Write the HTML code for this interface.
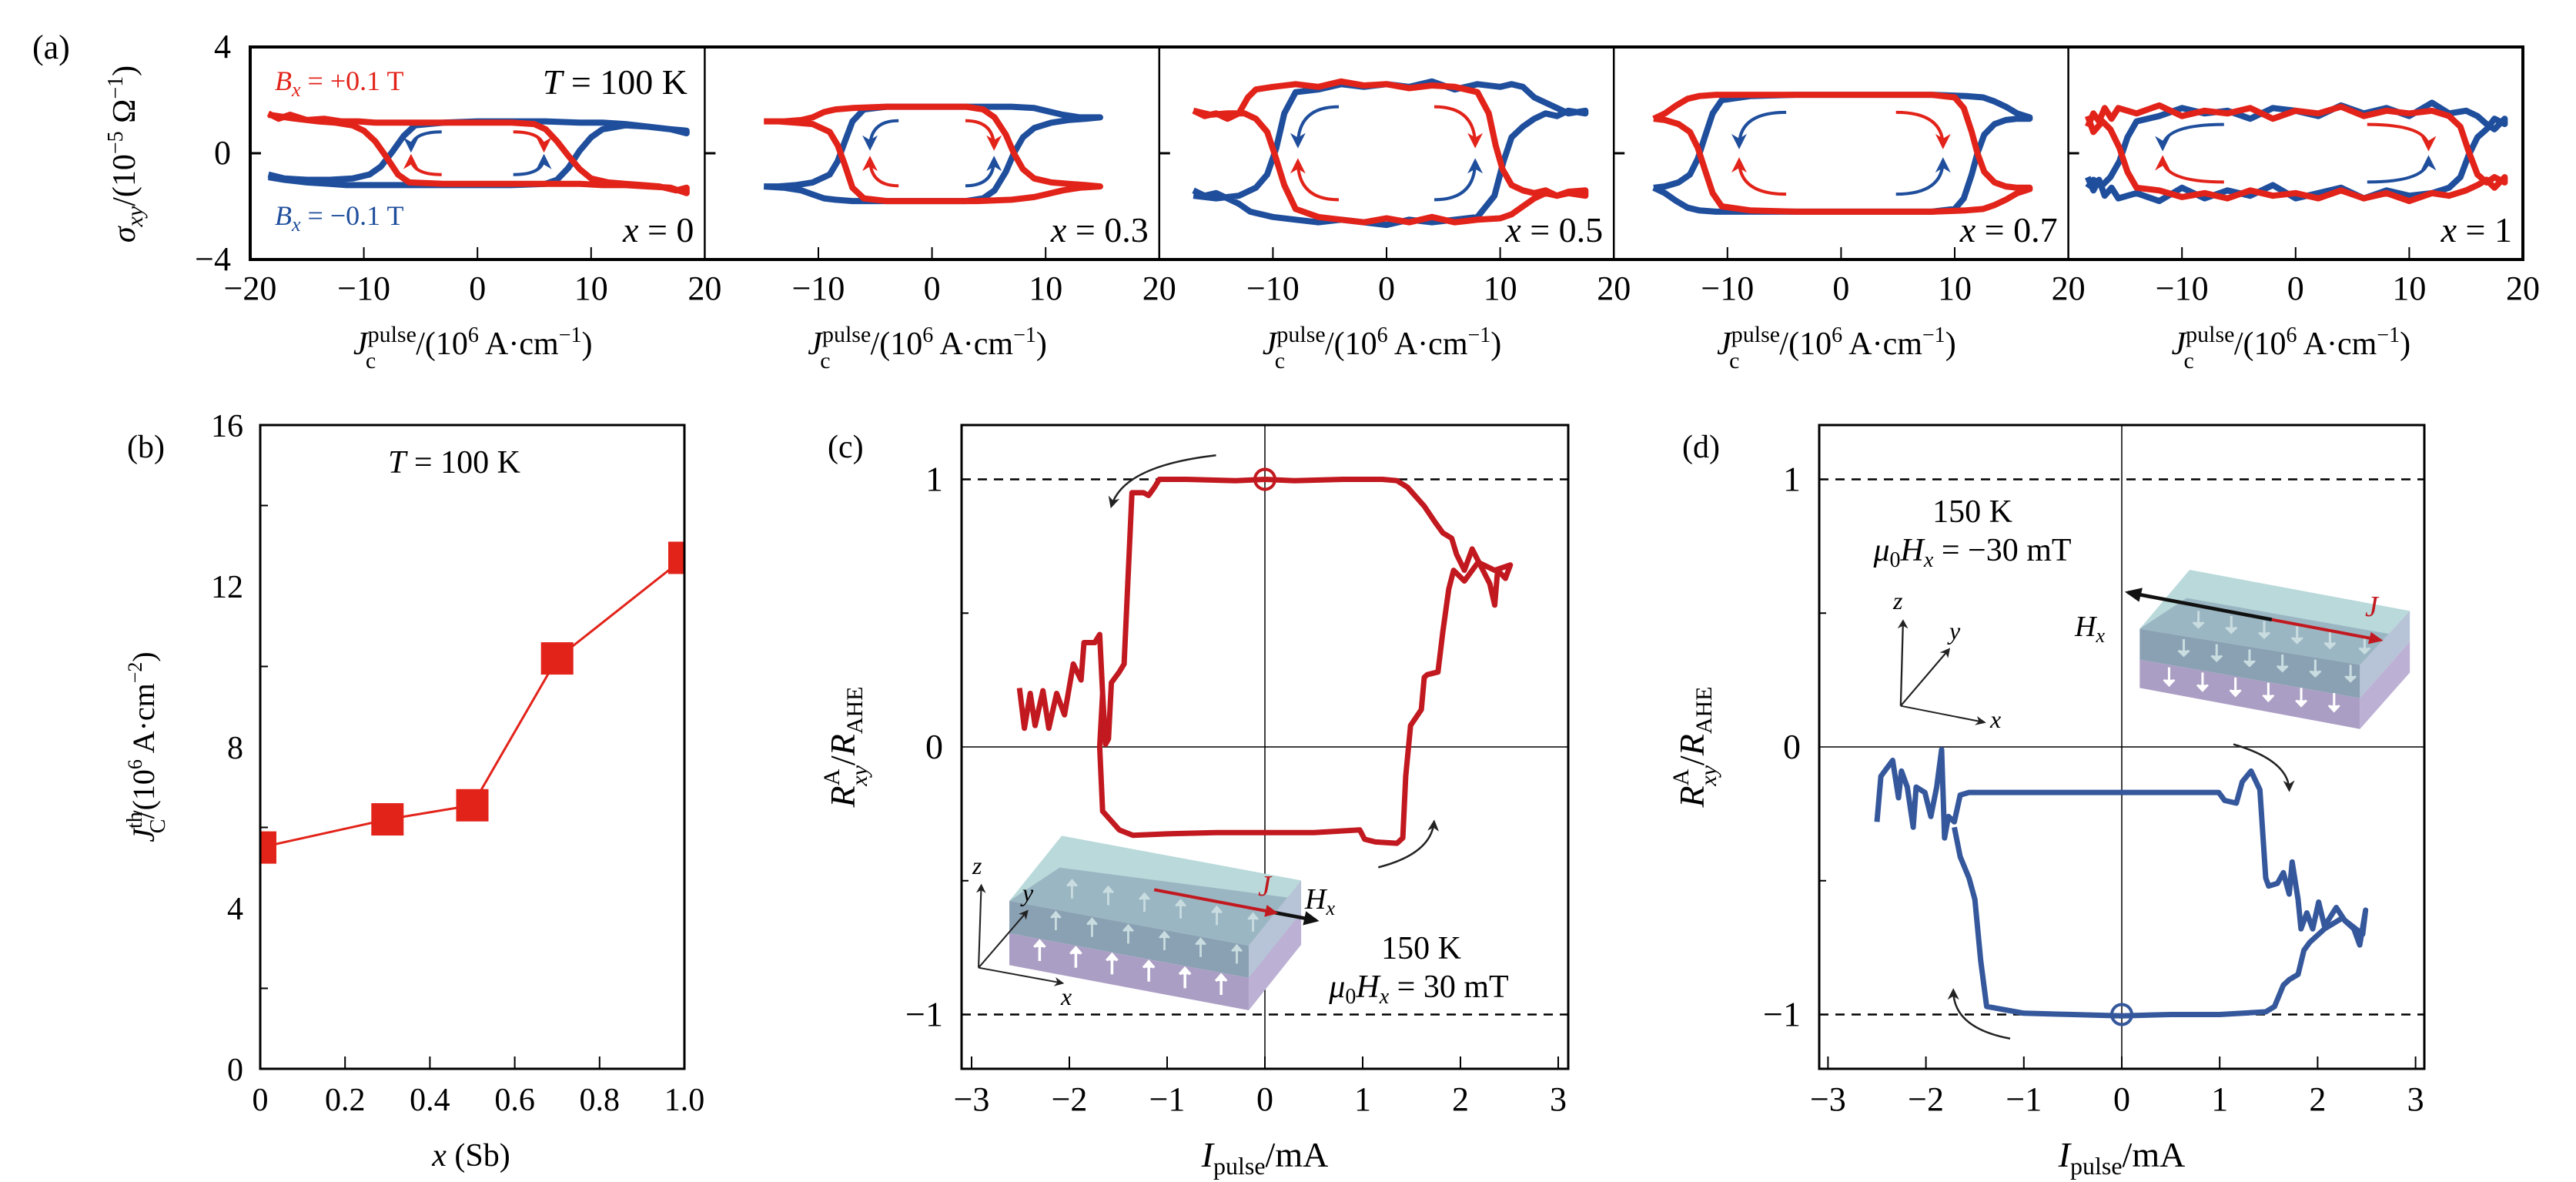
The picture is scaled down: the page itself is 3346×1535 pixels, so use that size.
<!DOCTYPE html>
<html><head><meta charset="utf-8"><style>
html,body{margin:0;padding:0;background:#fff;}
svg{display:block;font-family:"Liberation Serif","DejaVu Serif",serif;}
.it{font-style:italic;}
</style></head><body>
<svg id="fig" xmlns="http://www.w3.org/2000/svg" width="3346" height="1535" viewBox="0 0 3346 1535">
<defs>
<marker id="mRed" viewBox="0 0 10 10" refX="8" refY="5" markerWidth="5" markerHeight="5" orient="auto"><path d="M0,0 L10,5 L0,10 L3,5 z" fill="#e2231a"/></marker>
<marker id="mBlue" viewBox="0 0 10 10" refX="8" refY="5" markerWidth="5" markerHeight="5" orient="auto"><path d="M0,0 L10,5 L0,10 L3,5 z" fill="#1f4e9c"/></marker>
<marker id="mBlk" viewBox="0 0 10 10" refX="8" refY="5" markerWidth="6" markerHeight="6" orient="auto"><path d="M0,0 L10,5 L0,10 L3,5 z" fill="#222"/></marker>
<marker id="mBlkBig" viewBox="0 0 10 10" refX="8" refY="5" markerWidth="4" markerHeight="4" orient="auto"><path d="M0,0 L10,5 L0,10 z" fill="#111"/></marker>
<marker id="mRedBig" viewBox="0 0 10 10" refX="8" refY="5" markerWidth="4" markerHeight="4" orient="auto"><path d="M0,0 L10,5 L0,10 z" fill="#c1191f"/></marker>
<clipPath id="clipB"><rect x="338" y="552" width="551" height="836"/></clipPath>
</defs>
<g id="gA"></g>
<g id="gB"></g>
<g id="gC"></g>
<g id="gD"></g>

<!-- static text panel a -->
<text x="42" y="76" font-size="44">(a)</text>
<text x="300" y="75" font-size="44" text-anchor="end">4</text>
<text x="300" y="213" font-size="44" text-anchor="end">0</text>
<text x="300" y="351" font-size="44" text-anchor="end">−4</text>
<text transform="translate(175,200) rotate(-90)" font-size="42" text-anchor="middle"><tspan class="it">σ</tspan><tspan class="it" font-size="30" dy="10">xy</tspan><tspan dy="-10">/(10</tspan><tspan font-size="28" dy="-16">−5</tspan><tspan dy="16"> Ω</tspan><tspan font-size="28" dy="-16">−1</tspan><tspan dy="16">)</tspan></text>
<text x="357" y="117" font-size="36" fill="#e2231a"><tspan class="it">B</tspan><tspan class="it" font-size="26" dy="8">x</tspan><tspan dy="-8"> = +0.1 T</tspan></text>
<text x="357" y="292" font-size="36" fill="#1f4e9c"><tspan class="it">B</tspan><tspan class="it" font-size="26" dy="8">x</tspan><tspan dy="-8"> = −0.1 T</tspan></text>
<text x="893" y="122" font-size="46" text-anchor="end"><tspan class="it">T</tspan> = 100 K</text>

<!-- panel b text -->
<text x="165" y="594" font-size="42">(b)</text>
<text x="590" y="614" font-size="42" text-anchor="middle"><tspan class="it">T</tspan> = 100 K</text>
<text transform="translate(200,970) rotate(-90)" font-size="40" text-anchor="middle"><tspan class="it">J</tspan><tspan font-size="28" dy="-16">th</tspan><tspan font-size="28" dx="-28" dy="30">C</tspan><tspan dy="-14">/(10</tspan><tspan font-size="26" dy="-16">6</tspan><tspan dy="16"> A·cm</tspan><tspan font-size="26" dy="-16">−2</tspan><tspan dy="16">)</tspan></text>
<text x="612" y="1514" font-size="42" text-anchor="middle"><tspan class="it">x</tspan> (Sb)</text>

<!-- panel c text -->
<text x="1075" y="594" font-size="42">(c)</text>
<text transform="translate(1110,970) rotate(-90)" font-size="46" text-anchor="middle"><tspan class="it">R</tspan><tspan font-size="30" dy="-20">A</tspan><tspan class="it" font-size="30" dx="-22" dy="36">xy</tspan><tspan dy="-16">/</tspan><tspan class="it">R</tspan><tspan font-size="30" dy="10">AHE</tspan></text>
<text x="1643" y="1515" font-size="46" text-anchor="middle"><tspan class="it">I</tspan><tspan font-size="32" dy="10">pulse</tspan><tspan dy="-10">/mA</tspan></text>
<text x="1846" y="1245" font-size="42" text-anchor="middle">150 K</text>
<text x="1843" y="1295" font-size="42" text-anchor="middle"><tspan class="it">μ</tspan><tspan font-size="28" dy="8">0</tspan><tspan class="it" dy="-8">H</tspan><tspan class="it" font-size="28" dy="8">x</tspan><tspan dy="-8"> = 30 mT</tspan></text>
<text x="1634" y="1163" font-size="38" fill="#c1191f" class="it">J</text>
<text x="1695" y="1180" font-size="38" class="it">H<tspan font-size="26" dy="8">x</tspan></text>
<text x="1263" y="1135" font-size="32" class="it">z</text>
<text x="1328" y="1170" font-size="32" class="it">y</text>
<text x="1378" y="1305" font-size="32" class="it">x</text>

<!-- panel d text -->
<text x="2185" y="594" font-size="42">(d)</text>
<text transform="translate(2213,970) rotate(-90)" font-size="46" text-anchor="middle"><tspan class="it">R</tspan><tspan font-size="30" dy="-20">A</tspan><tspan class="it" font-size="30" dx="-22" dy="36">xy</tspan><tspan dy="-16">/</tspan><tspan class="it">R</tspan><tspan font-size="30" dy="10">AHE</tspan></text>
<text x="2756" y="1515" font-size="46" text-anchor="middle"><tspan class="it">I</tspan><tspan font-size="32" dy="10">pulse</tspan><tspan dy="-10">/mA</tspan></text>
<text x="2562" y="678" font-size="42" text-anchor="middle">150 K</text>
<text x="2562" y="728" font-size="42" text-anchor="middle"><tspan class="it">μ</tspan><tspan font-size="28" dy="8">0</tspan><tspan class="it" dy="-8">H</tspan><tspan class="it" font-size="28" dy="8">x</tspan><tspan dy="-8"> = −30 mT</tspan></text>
<text x="3072" y="800" font-size="38" fill="#c1191f" class="it">J</text>
<text x="2695" y="826" font-size="38" class="it">H<tspan font-size="26" dy="8">x</tspan></text>
<text x="2459" y="791" font-size="32" class="it">z</text>
<text x="2532" y="830" font-size="32" class="it">y</text>
<text x="2585" y="945" font-size="32" class="it">x</text>
</svg>
<script>
// ---------- Panel (a) data ----------
const aLabels = ['x = 0','x = 0.3','x = 0.5','x = 0.7','x = 1'];
const aXTicks = [-20,-10,0,10,20];
const aSwitch = [7.5,7,10,11.5,15];
const aPlateau = [1.15,1.75,2.5,2.2,1.55];
const a0RedX = [-18.4,-17.5,-16.5,-15,-13.5,-12,-10.5,-9,-6,-3,0,3,5,6,7,8,9,10,11.5,13,14.5,16,17.5,18.4, 18.4,17,15,13,11,9,6,3,0,-3,-6,-7,-8,-9,-10,-11,-12.5,-14,-16,-18.4];
const a0RedY = [1.5,1.3,1.45,1.25,1.3,1.2,1.2,1.15,1.15,1.15,1.15,1.15,1.1,0.9,0.45,-0.1,-0.6,-0.95,-1.1,-1.15,-1.2,-1.25,-1.4,-1.3, -1.5,-1.3,-1.25,-1.2,-1.2,-1.15,-1.15,-1.15,-1.15,-1.15,-1.1,-0.8,-0.15,0.45,0.85,1.05,1.15,1.2,1.3,1.45];
const a0BlueX = [-18.4,-17,-15,-13,-11.5,-10,-9,-8,-7,-6,-3,0,3,6,7,8,9,10,11,13,15,17,18.4, 18.4,17,15,13,11,9,6,3,0,-3,-5.5,-6.5,-7.5,-8.5,-9.5,-11,-13,-15,-17,-18.4];
const a0BlueY = [-0.9,-1.0,-1.1,-1.15,-1.2,-1.2,-1.2,-1.2,-1.2,-1.2,-1.2,-1.2,-1.2,-1.15,-1.0,-0.55,0.1,0.6,0.9,1.05,1.0,0.9,0.85, 0.75,0.9,1.0,1.1,1.15,1.15,1.2,1.2,1.2,1.15,1.05,0.65,0.05,-0.5,-0.8,-0.95,-1.0,-1.0,-0.95,-0.8];
const a3RedX = [-14.8,-13,-11.5,-10.5,-9.5,-8.5,-7,-4,0,3,4.5,5.5,6.5,7.2,8,9,10.5,12,13.5,14.8, 14.8,13,11.5,10,9,7,4,0,-4,-6,-7,-7.7,-8.3,-9,-10.5,-12,-13.5,-14.8];
const a3RedY = [1.2,1.2,1.25,1.35,1.55,1.65,1.7,1.75,1.75,1.75,1.65,1.35,0.7,0.0,-0.6,-0.95,-1.1,-1.15,-1.2,-1.25, -1.25,-1.3,-1.4,-1.55,-1.65,-1.75,-1.8,-1.8,-1.8,-1.7,-1.3,-0.4,0.3,0.8,1.1,1.15,1.2,1.2];
const a3BlueX = [-14.8,-13,-11.5,-10.5,-9.5,-8.5,-7,-4,0,3,4.5,5.5,6.5,7.2,8,9,10.5,12,13.5,14.8, 14.8,13,11.5,10,9,7,4,0,-4,-6,-7,-7.7,-8.3,-9,-10.5,-12,-13.5,-14.8];
const a3BlueY = [-1.25,-1.3,-1.4,-1.55,-1.7,-1.75,-1.8,-1.8,-1.8,-1.8,-1.7,-1.4,-0.7,0.0,0.6,0.95,1.15,1.25,1.3,1.35, 1.35,1.35,1.45,1.6,1.7,1.75,1.75,1.75,1.75,1.65,1.2,0.4,-0.3,-0.8,-1.1,-1.2,-1.25,-1.25];
const a5RedX = [-17,-16,-15,-14,-13,-12.2,-11.5,-10,-8,-6,-4,-2,0,2,4,6,8,9,9.6,10.2,11,12,13,14,15,16,17.5, 17.5,16,15,14,13,12,11,10,8,6,4,2,0,-2,-4,-6,-8,-9,-9.8,-10.5,-11.5,-12.5,-14,-15.5,-17];
const a5RedY = [1.6,1.4,1.5,1.3,1.5,2.1,2.4,2.5,2.6,2.5,2.7,2.55,2.6,2.45,2.55,2.5,2.3,1.5,0.3,-0.6,-1.2,-1.4,-1.5,-1.4,-1.6,-1.45,-1.4, -1.6,-1.5,-1.6,-1.5,-1.7,-2.0,-2.3,-2.45,-2.5,-2.6,-2.4,-2.6,-2.45,-2.6,-2.5,-2.4,-2.1,-1.2,-0.1,0.8,1.3,1.5,1.5,1.45,1.6];
const a5BlueX = [-17,-16,-15,-14,-13,-12,-10,-8,-6,-4,-2,0,2,4,6,8,9.5,10.3,11,12,13,14,15,16,17.5, 17.5,16,15,14,13,12,11,10,8,6,4,2,0,-2,-4,-6,-8,-9,-9.7,-10.5,-11.5,-13,-15,-17];
const a5BlueY = [-1.4,-1.6,-1.5,-1.7,-1.9,-2.2,-2.4,-2.5,-2.6,-2.5,-2.6,-2.7,-2.5,-2.6,-2.5,-2.4,-1.6,-0.3,0.6,1.0,1.3,1.5,1.4,1.6,1.5, 1.6,1.5,1.7,1.9,2.1,2.5,2.6,2.5,2.6,2.4,2.7,2.5,2.6,2.5,2.6,2.4,2.3,1.5,0.2,-0.8,-1.3,-1.6,-1.7,-1.6];
const a7RedX = [-16.5,-15.5,-14.5,-13.5,-12.5,-11,-8,-4,0,4,8,10,10.8,11.5,12,12.6,13.5,14.5,15.5,16.6, 16.6,15.5,14.5,13.5,12.5,11,8,4,0,-4,-8,-10.5,-11.3,-12,-12.6,-13.3,-14.3,-15.5,-16.5];
const a7RedY = [1.3,1.5,1.8,2.05,2.15,2.2,2.2,2.2,2.2,2.2,2.2,2.1,1.7,0.8,0.0,-0.7,-1.1,-1.25,-1.3,-1.3, -1.35,-1.5,-1.75,-1.95,-2.1,-2.15,-2.2,-2.2,-2.2,-2.2,-2.15,-2.0,-1.5,-0.6,0.2,0.8,1.1,1.25,1.3];
const a7BlueX = [-16.5,-15.5,-14.5,-13.5,-12.5,-11,-8,-4,0,4,8,10,10.8,11.5,12,12.6,13.5,14.5,15.5,16.6, 16.6,15.5,14.5,13.5,12.5,11,8,4,0,-4,-8,-10.5,-11.3,-12,-12.6,-13.3,-14.3,-15.5,-16.5];
const a7BlueY = [-1.3,-1.5,-1.8,-2.05,-2.15,-2.2,-2.2,-2.2,-2.2,-2.2,-2.2,-2.1,-1.7,-0.8,0.0,0.7,1.1,1.25,1.3,1.3, 1.35,1.5,1.75,1.95,2.1,2.15,2.2,2.2,2.2,2.2,2.15,2.0,1.5,0.6,-0.2,-0.8,-1.1,-1.25,-1.3];
const a10RedX = [-18.3,-17.8,-17.3,-16.8,-16.2,-15.6,-14,-12,-10,-8,-6,-4,-2,0,2,4,6,8,10,12,13.5,14.5,15.2,16,16.8,17.5,18.4, 18.4,17.5,16.8,16,15,13.5,12,10,8,6,4,2,0,-2,-4,-6,-8,-10,-12,-14,-14.8,-15.5,-16.3,-17,-17.8,-18.3];
const a10RedY = [1.0,1.5,1.2,1.7,1.3,1.7,1.5,1.8,1.4,1.6,1.5,1.7,1.3,1.6,1.5,1.75,1.4,1.6,1.5,1.6,1.4,1.0,0.1,-0.8,-1.1,-0.9,-1.1, -0.9,-1.3,-1.0,-1.2,-1.4,-1.6,-1.5,-1.8,-1.5,-1.7,-1.4,-1.7,-1.5,-1.6,-1.4,-1.7,-1.5,-1.65,-1.4,-1.3,-0.7,0.2,0.9,1.2,0.8,1.4];
const a10BlueX = [-18.3,-17.8,-17.3,-16.8,-16.2,-15.6,-14,-12,-10,-8,-6,-4,-2,0,2,4,6,8,10,12,13.5,14.5,15.2,16,16.8,17.5,18.4, 18.4,17.5,16.8,16,15,13.5,12,10,8,6,4,2,0,-2,-4,-6,-8,-10,-12,-14,-14.8,-15.5,-16.3,-17,-17.8,-18.3];
const a10BlueY = [-0.9,-1.4,-1.0,-1.6,-1.3,-1.7,-1.5,-1.8,-1.3,-1.7,-1.4,-1.6,-1.2,-1.7,-1.5,-1.3,-1.7,-1.4,-1.6,-1.5,-1.3,-0.9,-0.1,0.6,0.9,1.3,1.1, 1.3,0.9,1.1,1.4,1.6,1.5,1.9,1.4,1.7,1.5,1.8,1.4,1.6,1.7,1.3,1.6,1.5,1.7,1.4,1.2,0.6,-0.3,-0.9,-1.2,-1.0,-1.3];
const aRedXs = [a0RedX,a3RedX,a5RedX,a7RedX,a10RedX];
const aRedYs = [a0RedY,a3RedY,a5RedY,a7RedY,a10RedY];
const aBlueXs = [a0BlueX,a3BlueX,a5BlueX,a7BlueX,a10BlueX];
const aBlueYs = [a0BlueY,a3BlueY,a5BlueY,a7BlueY,a10BlueY];

// ---------- Panel (b) data ----------
const bX = [0,0.3,0.5,0.7,1.0];
const bY = [5.5,6.2,6.55,10.2,12.7];
const bXTicks = [0,0.2,0.4,0.6,0.8,1.0];
const bXTickLabels = ['0','0.2','0.4','0.6','0.8','1.0'];
const bYTicks = [0,4,8,12,16];
const bYMinor = [2,6,10,14];

// ---------- Panel (c) data ----------
const cX = [-2.51,-2.46,-2.4,-2.35,-2.27,-2.21,-2.13,-2.05,-1.96,-1.88,-1.85,-1.74,-1.69,-1.66,-1.63,-1.6,-1.57,-1.49,-1.44,-1.36,-1.24,-1.19,-1.13,-1.08,-0.8,-0.3,0,0.3,0.8,1.2,1.35,1.46,1.63,1.74,1.82,1.91,1.96,2.04,2.12,2.23,2.3,2.35,2.38,2.46,2.51, 2.35,2.18,2.04,1.93,1.88,1.82,1.77,1.66,1.63,1.6,1.49,1.44,1.41,1.35,1.13,1.02,0.97,0.5,0,-0.5,-1.0,-1.35,-1.49,-1.66,-1.69,-1.66];
const cY = [0.22,0.07,0.2,0.08,0.21,0.07,0.2,0.12,0.31,0.25,0.39,0.39,0.42,0.2,0.01,0.03,0.24,0.28,0.31,0.95,0.95,0.94,0.97,1.0,1.0,0.995,1.0,0.995,1.0,1.0,0.995,0.97,0.9,0.84,0.8,0.78,0.72,0.66,0.74,0.66,0.61,0.53,0.66,0.63,0.68, 0.66,0.69,0.62,0.66,0.59,0.43,0.28,0.27,0.26,0.14,0.08,-0.11,-0.34,-0.36,-0.355,-0.345,-0.31,-0.32,-0.32,-0.32,-0.325,-0.33,-0.31,-0.24,0.0,0.2];
const cXTicks = [-3,-2,-1,0,1,2,3];
const cYLabels = [1,0,-1];

// ---------- Panel (d) data ----------
const dX = [-2.5,-2.46,-2.4,-2.34,-2.28,-2.25,-2.19,-2.13,-2.1,-2.01,-1.95,-1.89,-1.84,-1.81,-1.77,-1.71,-1.65,-1.56,-1.41,-1.17,-0.6,0,0.6,0.99,1.05,1.17,1.23,1.32,1.41,1.47,1.5,1.59,1.65,1.71,1.74,1.8,1.83,1.89,1.95,2.01,2.07,2.19,2.28,2.37,2.43,2.49,2.46, 2.25,2.07,1.92,1.86,1.8,1.71,1.65,1.56,1.47,1.0,0.5,0,-0.5,-1.0,-1.38,-1.44,-1.5,-1.56,-1.65,-1.71];
const dY = [-0.28,-0.11,-0.08,-0.05,-0.19,-0.09,-0.15,-0.3,-0.15,-0.17,-0.26,-0.15,-0.01,-0.34,-0.26,-0.28,-0.18,-0.17,-0.17,-0.17,-0.17,-0.17,-0.17,-0.17,-0.2,-0.21,-0.13,-0.09,-0.16,-0.49,-0.52,-0.51,-0.47,-0.55,-0.43,-0.57,-0.68,-0.62,-0.68,-0.58,-0.67,-0.6,-0.65,-0.68,-0.74,-0.61,-0.7, -0.64,-0.68,-0.73,-0.76,-0.85,-0.87,-0.89,-0.97,-0.99,-1.0,-1.0,-1.005,-1.0,-0.995,-0.97,-0.8,-0.57,-0.49,-0.41,-0.3];
const dXTicks = [-3,-2,-1,0,1,2,3];
const dYLabels = [1,0,-1];

const NS = 'http://www.w3.org/2000/svg';
function mk(tag, attrs, parent){
  const e = document.createElementNS(NS, tag);
  for (const k in attrs) e.setAttribute(k, attrs[k]);
  parent.appendChild(e);
  return e;
}
function fmt(v){ return (v<0?'−':'') + Math.abs(v); }

// ---------- draw panel (a) ----------
const gA = document.getElementById('gA');
const aL = 325, aW = 590.4, aTop = 61, aBot = 337, aY0 = 199, aKy = 34.5;
function ax(i, v){ return aL + i*aW + (v+20)/40*aW; }
function ay(v){ return aY0 - v*aKy; }
for (let i=0;i<5;i++){
  const sub = mk('g', {}, gA);
  
  
  // inner ticks
  for (const t of [-10,0,10]){
    const tk = mk('line', {x1:ax(i,t), x2:ax(i,t), y1:aBot, y2:aBot-16, stroke:'#000','stroke-width':2}, sub);
    
    
  }
  const yt = mk('line', {x1:ax(i,-20), x2:ax(i,-20)+14, y1:aY0, y2:aY0, stroke:'#000','stroke-width':3}, sub);
  
  
  // tick labels
  for (const t of aXTicks){
    if (i>0 && t===-20) continue;
    const tl = mk('text', {x:ax(i,t), y:389, 'font-size':44, 'text-anchor':'middle'}, sub);
    tl.textContent = fmt(t);
    
    
  }
  // x label
  const xl = mk('text', {x:ax(i,0)-6, y:460, 'font-size':42, 'text-anchor':'middle'}, sub);
  xl.innerHTML = '<tspan font-style="italic">J</tspan><tspan font-size="30" dy="-16">pulse</tspan><tspan font-size="30" dx="-66" dy="34">c</tspan><tspan dx="52" dy="-18">/(10</tspan><tspan font-size="28" dy="-16">6</tspan><tspan dy="16"> A·cm</tspan><tspan font-size="28" dy="-16">−1</tspan><tspan dy="16">)</tspan>';
  
  
  // curves
  const bp = aBlueXs[i].map((v,k)=>ax(i,v).toFixed(1)+','+ay(aBlueYs[i][k]).toFixed(1)).join(' ');
  const bl = mk('polyline', {points:bp, fill:'none', stroke:'#1f4e9c','stroke-width':8,'stroke-linejoin':'round'}, sub);
  
  
  const rp = aRedXs[i].map((v,k)=>ax(i,v).toFixed(1)+','+ay(aRedYs[i][k]).toFixed(1)).join(' ');
  const rl = mk('polyline', {points:rp, fill:'none', stroke:'#e2231a','stroke-width':8,'stroke-linejoin':'round'}, sub);
  
  
  // sweep arrows
  const hs = aSwitch[i], p = aPlateau[i];
  const arrs = [[1,1,'#e2231a','mRed'],[-1,-1,'#e2231a','mRed'],[-1,1,'#1f4e9c','mBlue'],[1,-1,'#1f4e9c','mBlue']];
  for (const [sx, sy, col, mid] of arrs){
    const x1 = ax(i, sx*hs*0.42), y1 = ay(sy*p*0.7);
    const x2 = ax(i, sx*hs*0.78), y2 = ay(sy*p*0.12);
    const ar = mk('path', {d:`M${x1},${y1} Q${x2},${y1} ${x2},${y2}`, fill:'none', stroke:col, 'stroke-width':4, 'marker-end':`url(#${mid})`}, sub);
    
    
  }
  const lab = mk('text', {x:ax(i,20)-14, y:314, 'font-size':46, 'text-anchor':'end'}, sub);
  lab.innerHTML = '<tspan font-style="italic">x</tspan>' + aLabels[i].slice(1);
  
  
}
const aFrame = mk('rect', {x:aL, y:aTop, width:aW*5, height:aBot-aTop, fill:'none', stroke:'#000','stroke-width':4}, gA);


for (let i=1;i<5;i++){
  const dv = mk('line', {x1:aL+i*aW, x2:aL+i*aW, y1:aTop, y2:aBot, stroke:'#000','stroke-width':2.5}, gA);
  
  
}

// ---------- draw panel (b) ----------
const gB = document.getElementById('gB');
function bx(v){ return 338 + v*551; }
function by(v){ return 1388 - v*52.25; }
const bLine = mk('polyline', {points:bX.map((v,k)=>bx(v)+','+by(bY[k])).join(' '), fill:'none', stroke:'#e2231a','stroke-width':3,'clip-path':'url(#clipB)'}, gB);


for (let k=0;k<bX.length;k++){
  const sq = mk('rect', {x:bx(bX[k])-21, y:by(bY[k])-21, width:42, height:42, fill:'#e2231a','clip-path':'url(#clipB)'}, gB);
  
  
}
const bFrame = mk('rect', {x:338, y:552, width:551, height:836, fill:'none', stroke:'#000','stroke-width':3}, gB);


bXTicks.forEach((t,k)=>{
  if (k>0 && k<bXTicks.length-1){
    const tk = mk('line', {x1:bx(t), x2:bx(t), y1:1388, y2:1372, stroke:'#000','stroke-width':2}, gB);
    
    
  }
  const tl = mk('text', {x:bx(t), y:1442, 'font-size':42, 'text-anchor':'middle'}, gB);
  tl.textContent = bXTickLabels[k];
  
  
});
bYTicks.forEach(t=>{
  const tl = mk('text', {x:316, y:by(t)+15, 'font-size':42, 'text-anchor':'end'}, gB);
  tl.textContent = String(t);
  
  
});
bYMinor.forEach(t=>{
  const tk = mk('line', {x1:338, x2:348, y1:by(t), y2:by(t), stroke:'#000','stroke-width':2}, gB);
  
  
});

// ---------- shared for (c),(d) ----------
const yTop = 552, yBot = 1388, yK = 347.5, yZ = 970;
function ry(v){ return yZ - v*yK; }
function drawRFrame(g, left, right, x0, kx, ticks, labels, prefix){
  const fr = mk('rect', {x:left, y:yTop, width:right-left, height:yBot-yTop, fill:'none', stroke:'#000','stroke-width':3}, g);
  
  
  for (const v of [1,-1]){
    const dl = mk('line', {x1:left, x2:right, y1:ry(v), y2:ry(v), stroke:'#000','stroke-width':2.5,'stroke-dasharray':'12,9'}, g);
    
    
  }
  const hz = mk('line', {x1:left, x2:right, y1:ry(0), y2:ry(0), stroke:'#000','stroke-width':1.5}, g);
  
  
  const vz = mk('line', {x1:x0, x2:x0, y1:yTop, y2:yBot, stroke:'#000','stroke-width':1.5}, g);
  
  
  for (const t of ticks){
    const tk = mk('line', {x1:x0+t*kx, x2:x0+t*kx, y1:yBot, y2:yBot-16, stroke:'#000','stroke-width':2}, g);
    
    
    const tl = mk('text', {x:x0+t*kx, y:1442, 'font-size':44, 'text-anchor':'middle'}, g);
    tl.textContent = fmt(t);
    
    
  }
  for (const v of [0.5,-0.5]){
    const tk = mk('line', {x1:left, x2:left+9, y1:ry(v), y2:ry(v), stroke:'#000','stroke-width':2}, g);
    
    
  }
  for (const v of labels){
    const tl = mk('text', {x:left-24, y:ry(v)+15, 'font-size':46, 'text-anchor':'end'}, g);
    tl.textContent = fmt(v);
    
    
  }
}

// ---------- panel (c) ----------
const gC = document.getElementById('gC');
function cx(v){ return 1643 + v*127; }
drawRFrame(gC, 1249, 2037, 1643, 127, cXTicks, cYLabels, 'c');
const cIn = mk('g', {transform:'translate(1050,500) scale(0.7018,0.6667)'}, gC);


cIn.innerHTML = `
<polygon points="372,1005 469,878 912,965 815,1092" fill="#b9d9da"/>
<polygon points="465,940 900,1000 815,1092 372,1005" fill="#93adbd" opacity="0.8"/>
<polygon points="372,1005 815,1092 815,1155 372,1068" fill="#8aa1b3"/>
<polygon points="372,1068 815,1155 815,1218 372,1130" fill="#ab9ec4"/>
<polygon points="815,1092 912,965 912,1090 815,1218" fill="#b7c3d6"/>
<polygon points="815,1155 912,1028 912,1090 815,1218" fill="#bcb0d4"/>
<g stroke="#fff" stroke-width="5" fill="#fff">
<path d="M428,1122 v-35 M418,1095 l10,-12 l10,12"/><path d="M495,1135 v-35 M485,1108 l10,-12 l10,12"/><path d="M562,1148 v-35 M552,1121 l10,-12 l10,12"/><path d="M630,1162 v-35 M620,1135 l10,-12 l10,12"/><path d="M697,1175 v-35 M687,1148 l10,-12 l10,12"/><path d="M764,1188 v-35 M754,1161 l10,-12 l10,12"/>
</g>
<g stroke="#c9dde0" stroke-width="4" fill="#c9dde0">
<path d="M458,1062 v-32 M449,1038 l9,-11 l9,11"/><path d="M525,1075 v-32 M516,1051 l9,-11 l9,11"/><path d="M592,1088 v-32 M583,1064 l9,-11 l9,11"/><path d="M659,1101 v-32 M650,1077 l9,-11 l9,11"/><path d="M726,1114 v-32 M717,1090 l9,-11 l9,11"/><path d="M793,1127 v-32 M784,1103 l9,-11 l9,11"/>
<path d="M488,1000 v-32 M479,976 l9,-11 l9,11"/><path d="M555,1013 v-32 M546,989 l9,-11 l9,11"/><path d="M622,1026 v-32 M613,1002 l9,-11 l9,11"/><path d="M689,1039 v-32 M680,1015 l9,-11 l9,11"/><path d="M756,1052 v-32 M747,1028 l9,-11 l9,11"/><path d="M823,1065 v-32 M814,1041 l9,-11 l9,11"/>
</g>
<line x1="850" y1="1025" x2="940" y2="1043" stroke="#111" stroke-width="7" marker-end="url(#mBlkBig)"/>
<line x1="640" y1="983" x2="865" y2="1028" stroke="#c1191f" stroke-width="6" marker-end="url(#mRedBig)"/>
<g stroke="#222" stroke-width="3" fill="none">
<line x1="315" y1="1135" x2="320" y2="975" marker-end="url(#mBlk)"/>
<line x1="315" y1="1135" x2="405" y2="1025" marker-end="url(#mBlk)"/>
<line x1="315" y1="1135" x2="470" y2="1165" marker-end="url(#mBlk)"/>
</g>`;
const cCurve = mk('polyline', {points:cX.map((v,k)=>cx(v).toFixed(1)+','+ry(cY[k]).toFixed(1)).join(' '), fill:'none', stroke:'#c1191f','stroke-width':7,'stroke-linejoin':'round'}, gC);


const cCirc = mk('circle', {cx:cx(0), cy:ry(1), r:13, fill:'none', stroke:'#c1191f','stroke-width':4}, gC);


const cA1 = mk('path', {d:`M${cx(-0.5)},${ry(1.09)} Q${cx(-1.45)},${ry(1.05)} ${cx(-1.57)},${ry(0.9)}`, fill:'none', stroke:'#222','stroke-width':2.5,'marker-end':'url(#mBlk)'}, gC);


const cA2 = mk('path', {d:`M${cx(1.16)},${ry(-0.45)} Q${cx(1.7)},${ry(-0.4)} ${cx(1.73)},${ry(-0.28)}`, fill:'none', stroke:'#222','stroke-width':2.5,'marker-end':'url(#mBlk)'}, gC);



// ---------- panel (d) ----------
const gD = document.getElementById('gD');
function dxs(v){ return 2756 + v*127.2; }
drawRFrame(gD, 2363, 3149, 2756, 127.2, dXTicks, dYLabels, 'd');
const dIn = mk('g', {transform:'translate(2150,500) scale(0.7628,0.6667)'}, gD);


dIn.innerHTML = `
<polygon points="825,475 910,360 1285,440 1200,545" fill="#b9d9da"/>
<polygon points="905,415 1275,490 1200,545 825,475" fill="#93adbd" opacity="0.8"/>
<polygon points="825,475 1200,545 1200,610 825,535" fill="#8aa1b3"/>
<polygon points="825,535 1200,610 1200,670 825,590" fill="#ab9ec4"/>
<polygon points="1200,545 1285,440 1285,500 1200,610" fill="#b7c3d6"/>
<polygon points="1200,610 1285,500 1285,560 1200,670" fill="#bcb0d4"/>
<g stroke="#fff" stroke-width="4" fill="#fff">
<path d="M875,550 v32 M866,574 l9,11 l9,-11"/><path d="M932,560 v32 M923,584 l9,11 l9,-11"/><path d="M988,570 v32 M979,594 l9,11 l9,-11"/><path d="M1044,580 v32 M1035,604 l9,11 l9,-11"/><path d="M1100,590 v32 M1091,614 l9,11 l9,-11"/><path d="M1156,600 v32 M1147,624 l9,11 l9,-11"/>
</g>
<g stroke="#c9dde0" stroke-width="4" fill="#c9dde0">
<path d="M900,495 v30 M891,517 l9,10 l9,-10"/><path d="M956,505 v30 M947,527 l9,10 l9,-10"/><path d="M1012,515 v30 M1003,537 l9,10 l9,-10"/><path d="M1068,525 v30 M1059,547 l9,10 l9,-10"/><path d="M1124,535 v30 M1115,557 l9,10 l9,-10"/><path d="M1184,545 v30 M1175,567 l9,10 l9,-10"/>
<path d="M925,440 v30 M916,462 l9,10 l9,-10"/><path d="M981,450 v30 M972,472 l9,10 l9,-10"/><path d="M1037,460 v30 M1028,482 l9,10 l9,-10"/><path d="M1093,470 v30 M1084,492 l9,10 l9,-10"/><path d="M1149,480 v30 M1140,502 l9,10 l9,-10"/><path d="M1208,490 v30 M1199,512 l9,10 l9,-10"/>
</g>
<line x1="1050" y1="457" x2="805" y2="404" stroke="#111" stroke-width="7" marker-end="url(#mBlkBig)"/>
<line x1="1050" y1="457" x2="1235" y2="497" stroke="#c1191f" stroke-width="6" marker-end="url(#mRedBig)"/>
<g stroke="#222" stroke-width="3" fill="none">
<line x1="418" y1="625" x2="422" y2="460" marker-end="url(#mBlk)"/>
<line x1="418" y1="625" x2="500" y2="515" marker-end="url(#mBlk)"/>
<line x1="418" y1="625" x2="560" y2="657" marker-end="url(#mBlk)"/>
</g>`;
const dCurve = mk('polyline', {points:dX.map((v,k)=>dxs(v).toFixed(1)+','+ry(dY[k]).toFixed(1)).join(' '), fill:'none', stroke:'#35579b','stroke-width':7,'stroke-linejoin':'round'}, gD);


const dCirc = mk('circle', {cx:dxs(0), cy:ry(-1), r:13, fill:'none', stroke:'#35579b','stroke-width':4}, gD);


const dA1 = mk('path', {d:`M${dxs(1.14)},${ry(0.01)} Q${dxs(1.7)},${ry(-0.05)} ${dxs(1.71)},${ry(-0.16)}`, fill:'none', stroke:'#222','stroke-width':2.5,'marker-end':'url(#mBlk)'}, gD);


const dA2 = mk('path', {d:`M${dxs(-1.14)},${ry(-1.09)} Q${dxs(-1.72)},${ry(-1.05)} ${dxs(-1.72)},${ry(-0.91)}`, fill:'none', stroke:'#222','stroke-width':2.5,'marker-end':'url(#mBlk)'}, gD);


</script>
</body></html>
